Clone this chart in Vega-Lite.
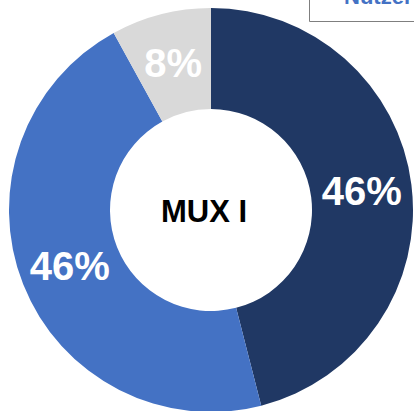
{
  "$schema": "https://vega.github.io/schema/vega-lite/v6.json",
  "width": 406,
  "height": 402,
  "autosize": {"type": "none"},
  "padding": {"left": 8, "top": 9, "right": 0, "bottom": 0},
  "background": "white",
  "config": {"view": {"stroke": null}, "font": "Liberation Sans"},
  "data": {
    "values": [
      {"segment": "a", "share": 46, "label": "46%"},
      {"segment": "b", "share": 46, "label": "46%"},
      {"segment": "c", "share": 8, "label": "8%"}
    ]
  },
  "layer": [
    {
      "mark": {"type": "arc", "outerRadius": 202, "innerRadius": 101},
      "encoding": {
        "theta": {"field": "share", "type": "quantitative", "stack": true},
        "order": {"field": "segment"},
        "color": {
          "field": "segment",
          "type": "nominal",
          "scale": {"domain": ["a", "b", "c"], "range": ["#203864", "#4472C4", "#D9D9D9"]},
          "legend": null
        }
      }
    },
    {
      "mark": {
        "type": "text",
        "radius": 152,
        "fontSize": 40,
        "fontWeight": "bold",
        "fill": "white",
        "align": "center",
        "baseline": "middle",
        "dy": 2
      },
      "encoding": {
        "theta": {"field": "share", "type": "quantitative", "stack": true},
        "order": {"field": "segment"},
        "text": {"field": "label"}
      }
    },
    {
      "data": {"values": [{"title": "MUX I", "group": "Nutzer"}]},
      "mark": {
        "type": "text",
        "fontSize": 31,
        "fontWeight": "bold",
        "align": "center",
        "baseline": "middle",
        "dx": -7,
        "dy": 3
      },
      "encoding": {
        "text": {"field": "title"},
        "color": {
          "field": "group",
          "type": "nominal",
          "scale": {"range": ["black"]},
          "legend": {
            "orient": "none",
            "legendX": 301,
            "legendY": -36,
            "title": null,
            "labelFont": "Liberation Sans",
            "labelFontSize": 22,
            "labelFontWeight": "bold",
            "labelColor": "#4472C4",
            "labelOffset": 0,
            "symbolSize": 0,
            "symbolOpacity": 0,
            "symbolStrokeWidth": 0,
            "strokeColor": "#7f7f7f",
            "fillColor": "white",
            "padding": 13
          }
        }
      }
    }
  ],
  "resolve": {"scale": {"color": "independent"}, "legend": {"color": "independent"}}
}
